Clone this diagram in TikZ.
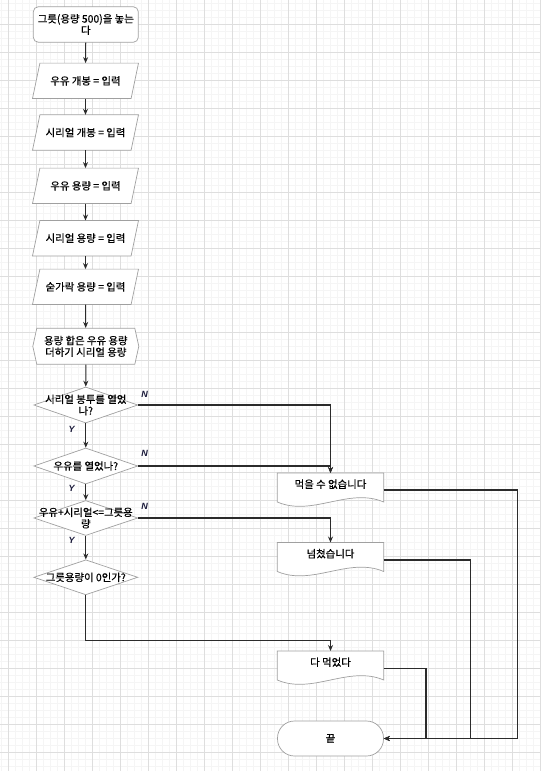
\documentclass[tikz,border=0pt]{standalone}
\usepackage{fontspec}
\newfontfamily\kr[FakeBold=0.4]{Noto Sans CJK KR}
\newfontfamily\lat{Liberation Sans}
\usetikzlibrary{shapes.geometric,shapes.symbols,arrows.meta,calc}
\definecolor{edgec}{HTML}{A0A0A0}
\definecolor{linec}{HTML}{2B2B2B}
\definecolor{gmaj}{HTML}{DEDEDE}
\definecolor{gmin}{HTML}{F5F5F5}
\definecolor{ync}{HTML}{1A1A3A}
\pgfdeclarelayer{gridlayer}
\pgfdeclarelayer{bglayer}
\pgfsetlayers{gridlayer,bglayer,main}
\newcommand\krfont{\kr\fontsize{10.4}{11.5}\selectfont}
\newcommand\docoutline[1]{%
  \draw[draw=edgec, line width=0.7pt, fill=white]
    (#1.north west) -- (#1.north east) -- ([yshift=-29pt]#1.north east)
    .. controls ([xshift=-35pt,yshift=-14pt]#1.north east) and ([xshift=35pt,yshift=-44pt]#1.north west)
    .. ([yshift=-29pt]#1.north west) -- cycle;}
\newcommand\iooutline[1]{%
  \draw[draw=edgec, line width=0.7pt, fill=white]
    (#1.south west) -- ([xshift=-7.4pt]#1.south east) -- (#1.north east)
    -- ([xshift=7.4pt]#1.north west) -- cycle;}
\begin{document}
\begin{tikzpicture}[x=1pt,y=-1pt,
  box/.style={draw=edgec, line width=0.7pt, fill=white, font=\krfont, align=center, inner sep=0pt},
  startbox/.style={box, rounded corners=5pt, minimum width=105pt, minimum height=35.5pt},
  iobox/.style={font=\krfont, align=center, inner sep=0pt, minimum width=105.6pt, minimum height=35pt},
  hexbox/.style={box, signal, signal to=west and east, signal pointer angle=155, minimum width=106pt, minimum height=36pt},
  decbox/.style={box, diamond, minimum width=104pt, minimum height=36pt},
  txt/.style={font=\krfont, align=center, inner sep=0pt},
  docbox/.style={font=\krfont, align=center, inner sep=0pt, minimum width=106pt, minimum height=22pt, anchor=north},
  termbox/.style={box, rounded corners=17pt, minimum width=106pt, minimum height=35pt},
  flow/.style={draw=linec, line width=1.1pt, -{Stealth[length=6pt,width=5pt]}},
  yn/.style={font=\lat\bfseries\itshape\fontsize{9}{10}\selectfont, text=ync, inner sep=0pt},
  gminor/.style={draw=gmin, line width=0.6pt},
  gmajor/.style={draw=gmaj, line width=0.8pt}
]
\useasboundingbox (0,0) rectangle (541,771);
\begin{pgfonlayer}{gridlayer}
  \fill[white] (0,0) rectangle (541,771);
  \foreach \i in {0,...,77} \draw[gminor] ({1.3+7*\i},0) -- ({1.3+7*\i},771);
  \foreach \i in {0,...,110} \draw[gminor] (0,{3.3+7*\i}) -- (541,{3.3+7*\i});
  \foreach \i in {0,...,19} \draw[gmajor] ({8.3+28*\i},0) -- ({8.3+28*\i},771);
  \foreach \i in {0,...,27} \draw[gmajor] (0,{24.3+28*\i}) -- (541,{24.3+28*\i});
\end{pgfonlayer}

% left column
\node[startbox] (start) at (85.8,24.5) {그릇(용량 500)을 놓는\\다};
\node[iobox] (p1) at (85.5,80.8) {우유 개봉 = 입력};
\node[iobox] (p2) at (85.5,132.5) {시리얼 개봉 = 입력};
\node[iobox] (p3) at (85.5,185.8) {우유 용량 = 입력};
\node[iobox] (p4) at (85.5,238.2) {시리얼 용량 = 입력};
\node[iobox] (p5) at (85.5,286.8) {숟가락 용량 = 입력};
\begin{pgfonlayer}{bglayer}
  \iooutline{p1}
  \iooutline{p2}
  \iooutline{p3}
  \iooutline{p4}
  \iooutline{p5}
\end{pgfonlayer}
\node[hexbox] (hx) at (85.8,346.3) {용량 합은 우유 용량\\더하기 시리얼 용량};
\node[decbox] (d1) at (85.8,405) {};
\node[txt] (d1t) at (d1) {시리얼 봉투를 열었\\나?};
\node[decbox] (d2) at (85.8,466) {};
\node[txt] (d2t) at (d2) {우유를 열었나?};
\node[decbox, minimum height=35pt] (d3) at (85.8,518) {};
\node[txt] (d3t) at (d3) {우유+시리얼<=그릇용\\량};
\node[decbox, minimum height=35pt] (d4) at (85.8,577.3) {};
\node[txt] (d4t) at (d4) {그릇용량이 0인가?};

% right column
\node[docbox] (doc1) at (330.5,473) {먹을 수 없습니다};
\node[docbox] (doc2) at (330.5,542.5) {넘쳤습니다};
\node[docbox] (doc3) at (330.5,651) {다 먹었다};
\begin{pgfonlayer}{bglayer}
  \docoutline{doc1}
  \docoutline{doc2}
  \docoutline{doc3}
\end{pgfonlayer}
\node[termbox] (term) at (330.5,738.5) {끝};

% main flow
\draw[flow] (start) -- (p1);
\draw[flow] (p1) -- (p2);
\draw[flow] (p2) -- (p3);
\draw[flow] (p3) -- (p4);
\draw[flow] (p4) -- (p5);
\draw[flow] (p5) -- (hx);
\draw[flow] (hx) -- (d1);
\draw[flow] (d1) -- (d2);
\draw[flow] (d2) -- (d3);
\draw[flow] (d3) -- (d4);

% branches
\draw[flow] (d1.east) -| (doc1.north);
\draw[flow] (d2.east) -| (doc1.north);
\draw[flow] (d3.east) -| (doc2.north);
\draw[flow] (d4.south) -- ++(0,45.7) -| (doc3.north);

% to end
\draw[flow] ([yshift=-17pt]doc1.north east) -- ++(133.5,0) |- (term.east);
\draw[flow] ([yshift=-17.5pt]doc2.north east) -- ++(87,0) |- (term.east);
\draw[flow] ([yshift=-17.7pt]doc3.north east) -- ++(42.3,0) |- (term.east);

% labels
\node[yn] (n1) at (144.5,394) {N};
\node[yn] (n2) at (144.5,453) {N};
\node[yn] (n3) at (144.5,506) {N};
\node[yn] (y1) at (71.7,429) {Y};
\node[yn] (y2) at (71.7,488.5) {Y};
\node[yn] (y3) at (71.7,540.5) {Y};
\end{tikzpicture}
\end{document}
